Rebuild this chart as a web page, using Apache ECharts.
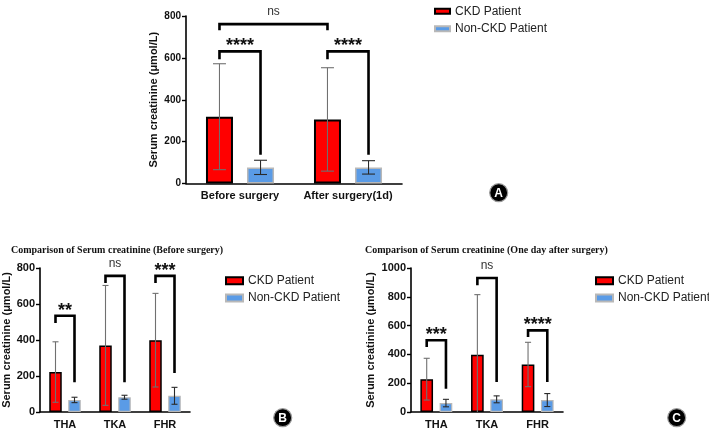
<!DOCTYPE html>
<html><head><meta charset="utf-8">
<script src="https://cdn.jsdelivr.net/npm/echarts@6/dist/echarts.min.js"></script>
<style>html,body{margin:0;padding:0;background:#fff}#c{width:709px;height:431px}</style>
</head><body><div id="c"></div>
<script>
// ---- Data ----
const catsA = ['Before surgery', 'After surgery(1d)'];
const ckdA = [319, 306];
const ckdSdA = [253, 247];
const nonA = [77, 77];
const nonSdA = [34, 32];

const catsBC = ['THA', 'TKA', 'FHR'];
const ckdB = [222, 370, 399];
const ckdSdB = [168, 333, 260];
const nonB = [67, 82, 90];
const nonSdB = [15, 11, 47];

const ckdC = [228, 398, 330];
const ckdSdC = [145, 417, 154];
const nonC = [62, 88, 83];
const nonSdC = [26, 24, 45];

// brackets: [leftCat, leftSide(0 CKD / 1 Non), rightCat, rightSide, topValue, leftLegEnd, rightLegEnd, label]
const bracketsA = [
  [0, 0, 1, 0, 761, 732, 732, 'ns'],
  [0, 0, 0, 1, 631, 593, 137, '****'],
  [1, 0, 1, 1, 631, 593, 137, '****']
];
const bracketsB = [
  [0, 0, 0, 1, 535, 494, 165, '**'],
  [1, 0, 1, 1, 756, 717, 165, 'ns'],
  [2, 0, 2, 1, 756, 717, 217, '***']
];
const bracketsC = [
  [0, 0, 0, 1, 498, 451, 162, '***'],
  [1, 0, 1, 1, 931, 880, 208, 'ns'],
  [2, 0, 2, 1, 567, 521, 208, '****']
];

const yTitle = 'Serum creatinine (μmol/L)';
const titleB = 'Comparison of Serum creatinine (Before surgery)';
const titleC = 'Comparison of Serum creatinine (One day after surgery)';

// ---- Styling ----
const RED = '#ff0000', BLUE = '#5a9be6';
const OFF = 0.19;       // bar center offset as fraction of band
const SANS = 'Liberation Sans, Arial, sans-serif';

function errData(m1, s1, m2, s2) {
  const d = [];
  m1.forEach((m, i) => d.push([i, m, s1[i], 0]));
  m2.forEach((m, i) => d.push([i, m, s2[i], 1]));
  return d;
}
function renderErr(params, api) {
  const cat = api.value(0), mean = api.value(1), sd = api.value(2), side = api.value(3);
  const band = api.size([1, 0])[0];
  const x = api.coord([cat, 0])[0] + band * OFF * (side ? 1 : -1);
  const yT = api.coord([cat, mean + sd])[1];
  const lo = mean - sd;
  const yB = api.coord([cat, Math.max(0, lo)])[1];
  const hw = band * 0.06;
  const col = side ? '#2a2a2a' : '#707070';
  const st = { stroke: col, lineWidth: 1.1 };
  const ch = [
    { type: 'line', shape: { x1: x, y1: yT, x2: x, y2: yB }, style: st },
    { type: 'line', shape: { x1: x - hw, y1: yT, x2: x + hw, y2: yT }, style: st }
  ];
  if (lo > 0) ch.push({ type: 'line', shape: { x1: x - hw, y1: yB, x2: x + hw, y2: yB }, style: st });
  return { type: 'group', children: ch };
}
function makeBracket(list) {
  return function (params, api) {
    const b = list[params.dataIndex];
    const band = api.size([1, 0])[0];
    const xL = api.coord([b[0], 0])[0] + band * OFF * (b[1] ? 1 : -1);
    const xR = api.coord([b[2], 0])[0] + band * OFF * (b[3] ? 1 : -1);
    const yTop = api.coord([b[0], b[4]])[1];
    const yL = api.coord([b[0], b[5]])[1];
    const yR = api.coord([b[0], b[6]])[1];
    const isNs = b[7] === 'ns';
    return {
      type: 'group', children: [
        { type: 'polyline', shape: { points: [[xL, yL], [xL, yTop], [xR, yTop], [xR, yR]] },
          style: { stroke: '#000', lineWidth: 2.6, fill: null, lineJoin: 'miter' } },
        { type: 'text', style: {
            text: b[7], x: (xL + xR) / 2, y: isNs ? yTop - 12 : yTop - 5,
            align: 'center', verticalAlign: 'middle',
            font: isNs ? '12px ' + SANS : 'bold 18px ' + SANS,
            fill: isNs ? '#333' : '#111' } }
      ]
    };
  };
}

function barSeries(name, data, idx, color, border, bw) {
  return {
    type: 'bar', name: name, data: data, xAxisIndex: idx, yAxisIndex: idx,
    barWidth: '25%', barGap: '52%',
    itemStyle: { color: color, borderColor: border, borderWidth: bw },
    z: 2
  };
}

function xAx(idx, cats, fs) {
  return {
    type: 'category', gridIndex: idx, data: cats,
    axisLine: { lineStyle: { color: '#000', width: 1.6 } },
    axisTick: { alignWithLabel: true, length: 4, lineStyle: { color: '#000', width: 1.4 } },
    axisLabel: { interval: 0, color: '#111', fontWeight: 'bold', fontSize: fs, fontFamily: SANS, margin: 7 }
  };
}
function yAx(idx, max, fs, gap) {
  return {
    type: 'value', gridIndex: idx, min: 0, max: max, interval: 200,
    name: yTitle, nameLocation: 'middle', nameGap: gap, nameRotate: 90,
    nameTextStyle: { color: '#111', fontWeight: 'bold', fontSize: 11, fontFamily: SANS },
    axisLine: { show: true, lineStyle: { color: '#000', width: 1.6 } },
    axisTick: { show: true, length: 4, lineStyle: { color: '#000', width: 1.4 } },
    axisLabel: { color: '#111', fontWeight: 'bold', fontSize: fs, fontFamily: SANS, margin: 5,
      formatter: v => String(v) },
    splitLine: { show: false }
  };
}
function legend(left, top, iw, ih) {
  return {
    orient: 'vertical', left: left, top: top, itemWidth: iw, itemHeight: ih, itemGap: 5.4,
    selectedMode: false, icon: 'rect',
    textStyle: { color: '#222', fontSize: 12, fontFamily: SANS },
    data: ['CKD Patient', 'Non-CKD Patient']
  };
}
function badge(cx, cy, letter) {
  return {
    type: 'group', children: [
      { type: 'circle', shape: { cx: cx, cy: cy, r: 9 }, style: { fill: '#000', stroke: '#999', lineWidth: 1.2 } },
      { type: 'text', style: { text: letter, x: cx, y: cy + 0.5, align: 'center', verticalAlign: 'middle',
          font: 'bold 12px ' + SANS, fill: '#fff' } }
    ]
  };
}

const option = {
  animation: false,
  title: [
    { text: titleB, left: 6, top: 240, textStyle: { fontFamily: 'Liberation Serif, Times New Roman, serif', fontSize: 10, fontWeight: 'bold', color: '#111' } },
    { text: titleC, left: 360, top: 240, textStyle: { fontFamily: 'Liberation Serif, Times New Roman, serif', fontSize: 10, fontWeight: 'bold', color: '#111' } }
  ],
  legend: [legend(429, 0.3, 15, 5), legend(220, 269.7, 17, 7), legend(590, 269.7, 17, 7)],
  grid: [
    { left: 186, top: 16, width: 216, height: 167.5 },
    { left: 40, top: 268, width: 150, height: 144 },
    { left: 411, top: 268, width: 152, height: 144 }
  ],
  xAxis: [xAx(0, catsA, 11), xAx(1, catsBC, 11), xAx(2, catsBC, 11)],
  yAxis: [yAx(0, 800, 10, 27), yAx(1, 800, 11, 26), yAx(2, 1000, 11, 35)],
  series: [
    barSeries('CKD Patient', ckdA, 0, RED, '#000', 2),
    barSeries('Non-CKD Patient', nonA, 0, BLUE, '#b8b8b8', 1.5),
    barSeries('CKD Patient', ckdB, 1, RED, '#000', 1.5),
    barSeries('Non-CKD Patient', nonB, 1, BLUE, '#b8b8b8', 1.2),
    barSeries('CKD Patient', ckdC, 2, RED, '#000', 1.5),
    barSeries('Non-CKD Patient', nonC, 2, BLUE, '#b8b8b8', 1.2),
    { type: 'custom', xAxisIndex: 0, yAxisIndex: 0, data: errData(ckdA, ckdSdA, nonA, nonSdA), encode: { x: 0, y: 1 }, renderItem: renderErr, z: 5, silent: true },
    { type: 'custom', xAxisIndex: 1, yAxisIndex: 1, data: errData(ckdB, ckdSdB, nonB, nonSdB), encode: { x: 0, y: 1 }, renderItem: renderErr, z: 5, silent: true },
    { type: 'custom', xAxisIndex: 2, yAxisIndex: 2, data: errData(ckdC, ckdSdC, nonC, nonSdC), encode: { x: 0, y: 1 }, renderItem: renderErr, z: 5, silent: true },
    { type: 'custom', xAxisIndex: 0, yAxisIndex: 0, data: bracketsA.map(b => [b[0], b[4]]), encode: { x: 0, y: 1 }, renderItem: makeBracket(bracketsA), z: 6, silent: true },
    { type: 'custom', xAxisIndex: 1, yAxisIndex: 1, data: bracketsB.map(b => [b[0], b[4]]), encode: { x: 0, y: 1 }, renderItem: makeBracket(bracketsB), z: 6, silent: true },
    { type: 'custom', xAxisIndex: 2, yAxisIndex: 2, data: bracketsC.map(b => [b[0], b[4]]), encode: { x: 0, y: 1 }, renderItem: makeBracket(bracketsC), z: 6, silent: true }
  ],
  graphic: [badge(498.7, 192.7, 'A'), badge(282.7, 417.7, 'B'), badge(676.7, 417.7, 'C')]
};
const chart = echarts.init(document.getElementById('c'), null, { renderer: 'canvas' });
chart.setOption(option);
</script></body></html>
